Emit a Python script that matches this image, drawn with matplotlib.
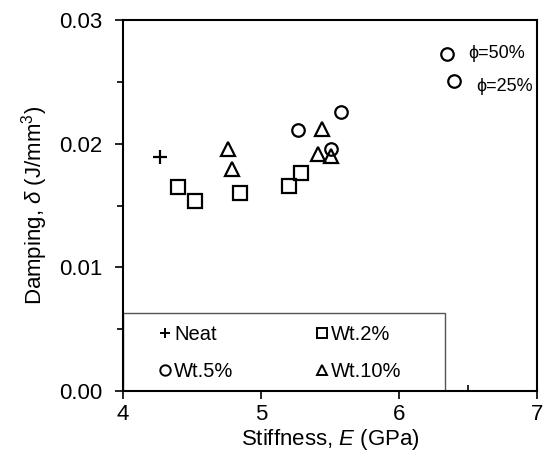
import matplotlib
matplotlib.use("Agg")
import matplotlib.pyplot as plt
from matplotlib.patches import Rectangle
from matplotlib.ticker import MultipleLocator, FixedLocator, FormatStrFormatter

plt.rcParams['font.family'] = ['Liberation Sans', 'DejaVu Sans']
plt.rcParams['mathtext.fontset'] = 'custom'
plt.rcParams['mathtext.rm'] = 'Liberation Sans'
plt.rcParams['mathtext.it'] = 'Liberation Sans:italic'

# stiffness (GPa) / damping (J/mm^3)
neat_E = [4.27]
neat_d = [0.0189]
wt2_E = [4.40, 4.52, 4.85, 5.20, 5.29]
wt2_d = [0.0165, 0.0154, 0.0160, 0.0166, 0.0176]
wt5_E = [5.27, 5.51, 5.58, 6.35, 6.40]
wt5_d = [0.0211, 0.0196, 0.0226, 0.0273, 0.0251]
wt10_E = [4.76, 4.79, 5.44, 5.41, 5.51]
wt10_d = [0.0196, 0.0180, 0.0212, 0.0192, 0.0190]

fig = plt.figure(figsize=(5.44, 4.58), dpi=100)
ax = fig.add_axes([0.226, 0.146, 0.761, 0.810])

kw = dict(linestyle='none', markerfacecolor='none', markeredgecolor='black',
          markeredgewidth=1.6, color='black')
h_neat, = ax.plot(neat_E, neat_d, marker='+', markersize=10, label='Neat', **kw)
h_2, = ax.plot(wt2_E, wt2_d, marker='s', markersize=9.5, label='Wt.2%', **kw)
h_5, = ax.plot(wt5_E, wt5_d, marker='o', markersize=9, label='Wt.5%', **kw)
h_10, = ax.plot(wt10_E, wt10_d, marker='^', markersize=9.5, label='Wt.10%', **kw)

ax.text(6.50, 0.0273, '\u03d5=50%', fontsize=13, va='center', ha='left')
ax.text(6.56, 0.0246, '\u03d5=25%', fontsize=13, va='center', ha='left')

ax.set_xlim(4, 7)
ax.set_ylim(0, 0.03)
ax.xaxis.set_major_locator(MultipleLocator(1))
ax.xaxis.set_minor_locator(FixedLocator([6.5]))  # others hidden by legend box
ax.yaxis.set_major_locator(MultipleLocator(0.01))
ax.yaxis.set_minor_locator(MultipleLocator(0.005))
ax.yaxis.set_major_formatter(FormatStrFormatter('%.2f'))
ax.tick_params(axis='both', which='major', direction='out', length=6, width=1.2, labelsize=16)
ax.tick_params(axis='y', which='major', pad=9)
ax.tick_params(axis='y', which='minor', direction='out', length=4, width=1.2)
ax.tick_params(axis='x', which='minor', direction='in', length=4, width=1.2)
for s in ax.spines.values():
    s.set_linewidth(1.5)

ax.set_xlabel('Stiffness, $E$ (GPa)', fontsize=16, labelpad=1)
ax.set_ylabel('Damping, $\\delta$ (J/mm$^3$)', fontsize=16, labelpad=6)

# legend box
box = Rectangle((0, 0), 0.778, 0.21, transform=ax.transAxes, facecolor='white',
                edgecolor='#555555', linewidth=1.0, zorder=1.5)
ax.add_patch(box)
leg = ax.legend([h_neat, h_5, h_2, h_10], ['Neat', 'Wt.5%', 'Wt.2%', 'Wt.10%'],
                loc='center', bbox_to_anchor=(0.38, 0.102), ncol=2, fontsize=14.5,
                frameon=False, handlelength=0.6, handletextpad=0.15, columnspacing=4.1,
                borderpad=0, labelspacing=0.9)
for h in leg.legend_handles:
    h.set_markersize(7.5)
    h.set_markeredgewidth(1.4)

fig.savefig('out.png', dpi=100)
